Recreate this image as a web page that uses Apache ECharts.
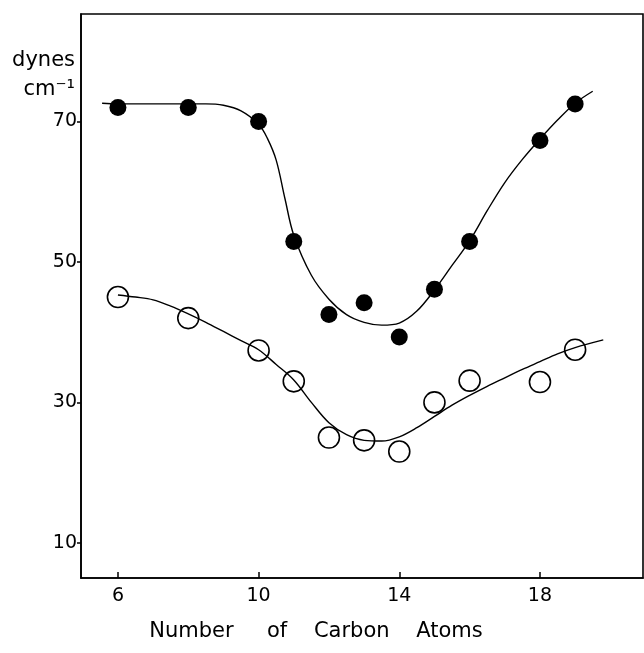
<!DOCTYPE html>
<html>
<head>
<meta charset="utf-8">
<script src="https://cdn.jsdelivr.net/npm/echarts@6/dist/echarts.min.js"></script>
<style>html,body{margin:0;padding:0;background:#fff}#c{width:644px;height:653px}</style>
</head>
<body>
<div id="c"></div>
<script>
// Data
const carbonAtoms = [6, 8, 10, 11, 12, 13, 14, 15, 16, 18, 19];
const filledValues = [72, 72, 70, 52.9, 42.5, 44.2, 39.3, 46.1, 52.9, 67.3, 72.5];
const openValues = [45, 42, 37.4, 33, 25, 24.6, 23, 30, 33.1, 32.9, 37.5];

// Fitted curves
const filledCurveX = [5.55, 6, 6.5, 7, 7.5, 8, 8.5, 9, 9.5, 10, 10.25, 10.5, 10.75, 11, 11.5, 12, 12.5, 13, 13.5, 14, 14.5, 15, 15.5, 16, 16.5, 17, 17.5, 18, 18.5, 19, 19.5];
const filledCurveY = [72.6, 72.5, 72.5, 72.5, 72.5, 72.5, 72.5, 72.3, 71.5, 69.6, 67.6, 64.5, 59.0, 53.8, 48.1, 44.7, 42.5, 41.4, 41.0, 41.3, 43.0, 46.0, 49.5, 53.0, 57.3, 61.3, 64.6, 67.5, 70.2, 72.6, 74.3];
const openCurveX = [6, 6.5, 7, 7.5, 8, 8.5, 9, 9.5, 10, 10.5, 11, 11.5, 12, 12.5, 13, 13.5, 14, 14.5, 15, 15.5, 16, 16.5, 17, 17.5, 18, 18.5, 19, 19.8];
const openCurveY = [45.3, 45.0, 44.6, 43.7, 42.6, 41.4, 40.1, 38.8, 37.5, 35.4, 33.2, 30.0, 27.1, 25.4, 24.6, 24.5, 25.1, 26.4, 28.0, 29.6, 31.0, 32.3, 33.5, 34.7, 35.8, 36.9, 37.8, 38.9];

const xTicks = [6, 10, 14, 18];
const yTicks = [10, 30, 50, 70];

const zip = (a, b) => a.map((v, i) => [v, b[i]]);
const font = 'DejaVu Sans';

const chart = echarts.init(document.getElementById('c'));
chart.setOption({
  animation: false,
  backgroundColor: '#fff',
  grid: {left: 81, right: 1, top: 14, bottom: 75, show: true, borderColor: '#000', borderWidth: 1.6, backgroundColor: 'transparent'},
  xAxis: {
    type: 'value', min: 4.95, max: 20.93,
    name: 'Number     of    Carbon    Atoms',
    nameLocation: 'middle', nameGap: 43,
    nameTextStyle: {fontFamily: font, fontSize: 21, color: '#000', padding: [0, 92, 0, 0]},
    axisLine: {show: true, lineStyle: {color: '#000', width: 1.6}},
    axisTick: {show: true, inside: true, length: 6, customValues: xTicks, lineStyle: {color: '#000', width: 1.5}},
    axisLabel: {customValues: xTicks, fontFamily: font, fontSize: 19, color: '#000', margin: 9},
    splitLine: {show: false}
  },
  yAxis: {
    type: 'value', min: 5, max: 85.3,
    name: 'dynes\ncm⁻¹',
    nameLocation: 'end', nameGap: -32,
    nameTextStyle: {fontFamily: font, fontSize: 21, color: '#000', align: 'right', verticalAlign: 'top', lineHeight: 29, padding: [0, 6, 0, 0]},
    axisLine: {show: true, lineStyle: {color: '#000', width: 1.6}},
    axisTick: {show: true, inside: false, length: 4, customValues: yTicks, lineStyle: {color: '#000', width: 1.5}},
    axisLabel: {customValues: yTicks, fontFamily: font, fontSize: 19, color: '#000', margin: 4},
    splitLine: {show: false}
  },
  series: [
    {type: 'line', data: zip(filledCurveX, filledCurveY), smooth: 0.35, showSymbol: false, lineStyle: {color: '#000', width: 1.4}, z: 2},
    {type: 'line', data: zip(openCurveX, openCurveY), smooth: 0.35, showSymbol: false, lineStyle: {color: '#000', width: 1.4}, z: 2},
    {type: 'scatter', data: zip(carbonAtoms, filledValues), symbol: 'circle', symbolSize: 17, itemStyle: {color: '#000', opacity: 1}, z: 3},
    {type: 'scatter', data: zip(carbonAtoms, openValues), symbol: 'circle', symbolSize: 21, itemStyle: {color: 'transparent', borderColor: '#000', borderWidth: 1.6, opacity: 1}, z: 3}
  ]
});
</script>
</body>
</html>
